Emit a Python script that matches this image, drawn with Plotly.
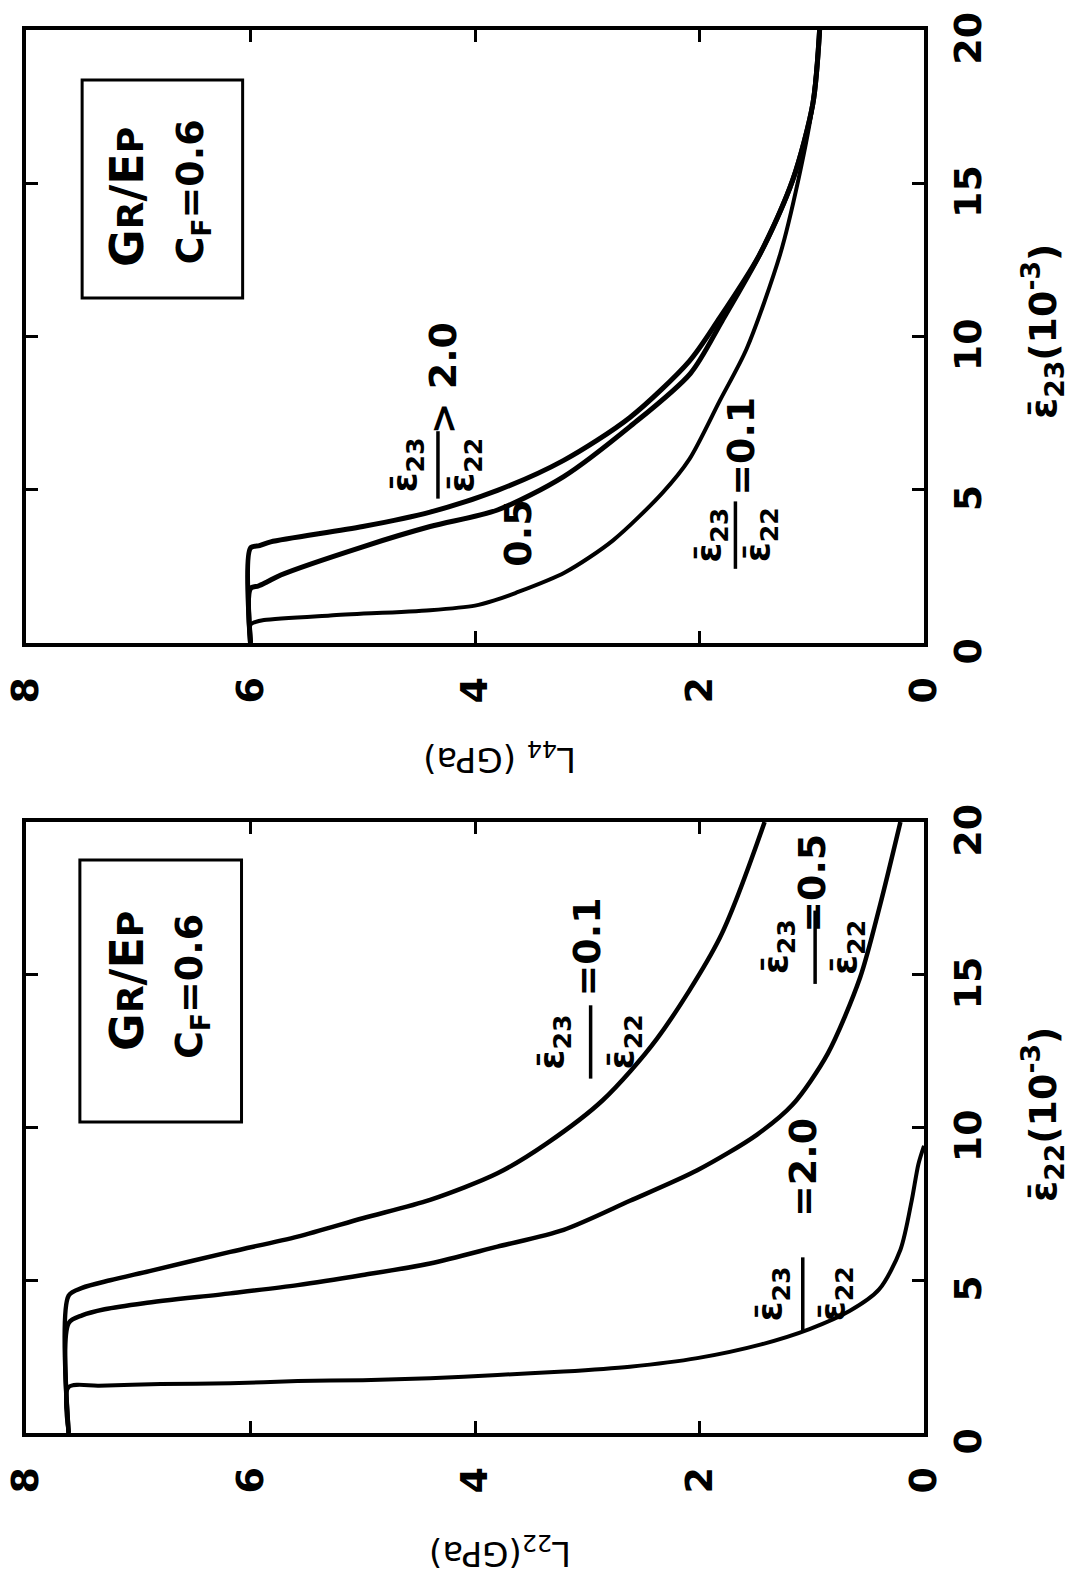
import plotly.graph_objects as go

# ---------------- data ----------------
# Top panel: L44 (GPa) vs eps23 (1e-3)
top_gt2_eps = [0, 3.10, 3.18, 3.30, 3.80, 4.27, 4.98, 5.96, 7.36, 9.20, 10.5, 12.7, 15.1, 17.6, 20.0]
top_gt2_L = [6.0, 6.0, 5.92, 5.82, 5.00, 4.40, 3.80, 3.21, 2.62, 2.09, 1.84, 1.46, 1.17, 0.99, 0.93]
top_05_eps = [0, 1.78, 1.86, 2.00, 2.22, 3.14, 3.80, 4.34, 5.43, 7.06, 8.80, 10.5, 12.7, 15.1, 17.6, 20.0]
top_05_L = [6.0, 6.0, 5.93, 5.85, 5.73, 5.00, 4.40, 3.80, 3.21, 2.62, 2.08, 1.80, 1.46, 1.17, 0.99, 0.93]
top_01_eps = [0, 0.60, 0.68, 0.75, 0.90, 1.07, 1.22, 1.40, 1.63, 2.30, 3.35, 4.90, 6.00, 7.90, 9.60, 12.7, 15.1, 17.6, 20.0]
top_01_L = [6.0, 6.0, 5.96, 5.88, 5.29, 4.40, 4.00, 3.82, 3.64, 3.20, 2.77, 2.33, 2.09, 1.82, 1.58, 1.28, 1.12, 0.99, 0.93]

# Bottom panel: L22 (GPa) vs eps22 (1e-3)
bot_01_eps = [0, 4.50, 4.75, 5.00, 5.30, 5.93, 6.43, 7.03, 7.63, 8.50, 9.48, 10.9, 12.9, 16.2, 20.0]
bot_01_L = [7.62, 7.62, 7.50, 7.25, 6.90, 6.18, 5.58, 5.00, 4.40, 3.80, 3.36, 2.86, 2.38, 1.82, 1.42]
bot_05_eps = [0, 3.60, 3.85, 4.05, 4.25, 4.57, 4.84, 5.17, 5.55, 6.10, 6.65, 7.60, 8.60, 9.76, 10.75, 12.4, 14.9, 17.3, 20.0]
bot_05_L = [7.62, 7.62, 7.50, 7.30, 6.95, 6.18, 5.58, 5.00, 4.40, 3.80, 3.21, 2.62, 2.02, 1.49, 1.17, 0.86, 0.57, 0.39, 0.21]
bot_20_eps = [0, 1.50, 1.55, 1.60, 1.63, 1.70, 1.73, 1.79, 1.90, 2.01, 2.17, 2.45, 2.90, 3.40, 4.00, 4.70, 6.00, 7.60, 8.80, 9.40]
bot_20_L = [7.62, 7.62, 7.35, 6.80, 6.18, 5.58, 5.00, 4.40, 3.80, 3.21, 2.62, 2.02, 1.45, 1.02, 0.66, 0.40, 0.21, 0.11, 0.05, 0.0]

L_ticks = [0, 2, 4, 6, 8]
eps_ticks = [0, 5, 10, 15, 20]

FONT = "DejaVu Sans"
W, H = 1092, 1577
EB = "\u03b5\u0304"  # epsilon with bar

fig = go.Figure()

def add_curve(xs, ys, ax, width):
    fig.add_trace(go.Scatter(x=xs, y=ys, xaxis=ax[0], yaxis=ax[1], mode="lines",
                             line=dict(color="black", width=width, shape="spline", smoothing=0.8),
                             hoverinfo="skip", showlegend=False))

add_curve(top_gt2_L, top_gt2_eps, ("x", "y"), 5)
add_curve(top_05_L, top_05_eps, ("x", "y"), 5)
add_curve(top_01_L, top_01_eps, ("x", "y"), 4)
add_curve(bot_01_L, bot_01_eps, ("x2", "y2"), 4.5)
add_curve(bot_05_L, bot_05_eps, ("x2", "y2"), 4.5)
add_curve(bot_20_L, bot_20_eps, ("x2", "y2"), 4)

X_DOM = [26 / W, 924 / W]
TOP_DOM = [1 - 643 / H, 1 - 30 / H]
BOT_DOM = [1 - 1433 / H, 1 - 822 / H]

TICKFONT = dict(family=FONT, size=38, color="black", weight="bold")

def xax(anchor):
    return dict(domain=X_DOM, anchor=anchor, range=[8, 0], tickvals=L_ticks, ticks="inside",
                ticklen=12, tickwidth=3, tickcolor="black", showline=True, linewidth=3.5,
                linecolor="black", mirror="ticks", showgrid=False, zeroline=False, tickangle=-90,
                tickfont=TICKFONT, ticklabelstandoff=15, automargin=False,
                ticklabeloverflow="allow")

def yax(anchor, dom):
    return dict(domain=dom, anchor=anchor, range=[0, 20], tickvals=eps_ticks, side="right",
                ticks="inside", ticklen=12, tickwidth=3, tickcolor="black", showline=True,
                linewidth=3.5, linecolor="black", mirror="ticks", showgrid=False, zeroline=False,
                tickangle=-90, tickfont=TICKFONT, ticklabelstandoff=8, ticklabelshift=14,
                automargin=False, ticklabeloverflow="allow")

annotations = []
shapes = []

def ann(x, y, text, size, xref, yref, angle=-90, weight="bold"):
    annotations.append(dict(x=x, y=y, xref=xref, yref=yref, text=text, showarrow=False,
                            textangle=angle, xanchor="center", yanchor="middle",
                            font=dict(family=FONT, size=size, color="black", weight=weight)))

def frac(xr, yr, Lnum, Lden, Lbar, eps_c, eps_half, rhs, eps_rhs, L_rhs):
    ann(Lnum, eps_c, EB + "<sub>23</sub>", 36, xr, yr)
    ann(Lden, eps_c, EB + "<sub>22</sub>", 36, xr, yr)
    shapes.append(dict(type="line", xref=xr, yref=yr, x0=Lbar, x1=Lbar,
                       y0=eps_c - eps_half, y1=eps_c + eps_half,
                       line=dict(color="black", width=3.5)))
    ann(L_rhs, eps_rhs, rhs, 38, xr, yr)

# top panel labels
frac("x", "y", 4.60, 4.09, 4.33, 5.81, 1.1, "&gt; 2.0", 8.65, 4.29)
ann(3.62, 3.59, "0.5", 38, "x", "y")
frac("x", "y", 1.90, 1.46, 1.68, 3.52, 1.1, "=0.1", 6.4, 1.63)

# bottom panel labels
frac("x2", "y2", 3.29, 2.66, 2.97, 12.8, 1.2, "=0.1", 15.9, 3.0)
frac("x2", "y2", 1.30, 0.68, 0.97, 15.9, 1.2, "=0.5", 18.0, 1.0)
frac("x2", "y2", 1.35, 0.79, 1.08, 4.55, 1.2, "=2.0", 8.7, 1.08)

# material boxes
SC = "<span style='font-size:36px'>%s</span>"
box_text1 = "G" + SC % "R" + "/E" + SC % "P"
box_text2 = "C<sub>F</sub>=0.6"
for xr, yr, L0, L1, e0, e1, ec1, ec2 in [("x", "y", 7.50, 6.07, 11.26, 18.37, 14.55, 14.7),
                                          ("x2", "y2", 7.52, 6.08, 10.18, 18.76, 14.8, 14.6)]:
    shapes.append(dict(type="rect", xref=xr, yref=yr, x0=L0, x1=L1, y0=e0, y1=e1,
                       line=dict(color="black", width=3), fillcolor="rgba(0,0,0,0)"))
    ann(7.1, ec1, box_text1, 46, xr, yr)
    ann(6.52, ec2, box_text2, 38, xr, yr)

# axis titles (paper coords)
ann(500 / W, 1 - 757 / H, "L<sub>44</sub> (GPa)", 34, "paper", "paper", angle=180, weight="normal")
ann(500 / W, 1 - 1552 / H, "L<sub>22</sub>(GPa)", 34, "paper", "paper", angle=180, weight="normal")
ann(1042 / W, 1 - 332 / H, EB + "<sub>23</sub>(10<sup>-3</sup>)", 38, "paper", "paper")
ann(1042 / W, 1 - 1115 / H, EB + "<sub>22</sub>(10<sup>-3</sup>)", 38, "paper", "paper")

fig.update_layout(
    width=W, height=H, margin=dict(l=0, r=0, t=0, b=0, autoexpand=False),
    paper_bgcolor="white", plot_bgcolor="white", showlegend=False,
    xaxis=xax("y"), yaxis=yax("x", TOP_DOM),
    xaxis2=xax("y2"), yaxis2=yax("x2", BOT_DOM),
    annotations=annotations, shapes=shapes,
)

fig.write_html("out.html")
